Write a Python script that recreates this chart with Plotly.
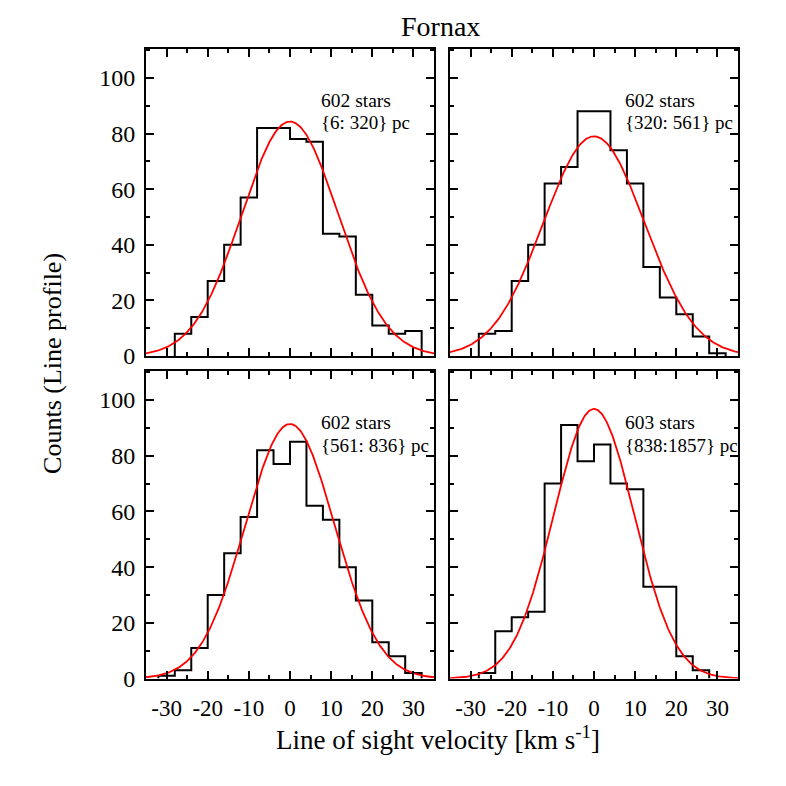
import numpy as np
import plotly.graph_objects as go

# ---------------- data ----------------
bin_width = 4.0
first_edge = [-28, -28, -32, -28]          # left edge of first bin per panel
counts_p1 = [8, 14, 27, 40, 57, 82, 82, 78, 77, 44, 43, 22, 11, 8, 9]
counts_p2 = [8, 9, 27, 40, 62, 68, 88, 88, 74, 62, 32, 21, 15, 7, 1]
counts_p3 = [1, 3, 11, 30, 45, 58, 82, 77, 85, 62, 57, 40, 28, 13, 8, 2]
counts_p4 = [2, 17, 22, 24, 70, 91, 78, 84, 70, 68, 33, 33, 8, 3]
fit_amp = [84.3, 79.0, 91.4, 96.8]
fit_mu = [0.0, 0.0, 0.0, 0.0]
fit_sigma = [11.7, 12.3, 10.8, 9.8]
star_labels = ["602 stars", "602 stars", "602 stars", "603 stars"]
range_labels = ["{6: 320} pc", "{320: 561} pc", "{561: 836} pc", "{838:1857} pc"]
x_ticks = [-30, -20, -10, 0, 10, 20, 30]
x_ticklabels = ["-30", "-20", "-10", "0", "10", "20", "30"]
y_ticks = [0, 20, 40, 60, 80, 100]
y_ticklabels = ["0", "20", "40", "60", "80", "100"]
title_text = "Fornax"
xtitle_text = "Line of sight velocity [km s<sup>-1</sup>]"
ytitle_text = "Counts (Line profile)"

counts_all = [counts_p1, counts_p2, counts_p3, counts_p4]

# ---------------- layout geometry ----------------
W = H = 786
FONT = "Liberation Serif"
xdom_left = [146 / W, 434 / W]
xdom_right = [450 / W, 738 / W]
ydom_top = [1 - 362 / H, 1 - 49.5 / H]
ydom_bot = [1 - 690 / H, 1 - 377 / H]
doms = [(xdom_left, ydom_top), (xdom_right, ydom_top),
        (xdom_left, ydom_bot), (xdom_right, ydom_bot)]

fig = go.Figure()
xgrid = np.linspace(-35, 35, 400)

for i in range(4):
    sfx = "" if i == 0 else str(i + 1)
    counts = counts_all[i]
    edges = [first_edge[i] + k * bin_width for k in range(len(counts) + 1)]
    xs = [edges[0]] + edges[:-1] + [edges[-1]]
    ys = [0] + list(counts) + [0]
    fig.add_trace(go.Scatter(x=xs, y=ys, mode="lines",
                             line=dict(color="black", width=2, shape="hv"),
                             xaxis="x" + sfx, yaxis="y" + sfx,
                             showlegend=False, hoverinfo="skip"))
    yfit = fit_amp[i] * np.exp(-(xgrid - fit_mu[i]) ** 2 / (2 * fit_sigma[i] ** 2))
    fig.add_trace(go.Scatter(x=xgrid, y=yfit, mode="lines",
                             line=dict(color="red", width=1.8),
                             xaxis="x" + sfx, yaxis="y" + sfx,
                             showlegend=False, hoverinfo="skip"))
    fig.add_annotation(x=7, y=92, xref="x" + sfx, yref="y" + sfx,
                       text=star_labels[i], showarrow=False,
                       xanchor="left", yanchor="middle",
                       font=dict(family=FONT, size=19.5, color="black"))
    fig.add_annotation(x=7, y=83.8, xref="x" + sfx, yref="y" + sfx,
                       text=range_labels[i], showarrow=False,
                       xanchor="left", yanchor="middle",
                       font=dict(family=FONT, size=19, color="black"))

layout_axes = {}
for i in range(4):
    sfx = "" if i == 0 else str(i + 1)
    xd, yd = doms[i]
    bottom = i >= 2
    left = i % 2 == 0
    layout_axes["xaxis" + sfx] = dict(
        domain=xd, range=[-35, 35], anchor="y" + sfx,
        tickvals=x_ticks, ticktext=x_ticklabels, showticklabels=bottom, ticklabelstandoff=8,
        ticks="inside", ticklen=8, tickwidth=1.5, tickcolor="black",
        minor=dict(dtick=5, tick0=0, ticks="inside", ticklen=4, tickwidth=1.5, tickcolor="black"),
        showline=True, linewidth=2, linecolor="black", mirror="allticks",
        showgrid=False, zeroline=False,
        tickfont=dict(family=FONT, size=23, color="black"))
    layout_axes["yaxis" + sfx] = dict(
        domain=yd, range=[0, 110.5], anchor="x" + sfx,
        tickvals=y_ticks, ticktext=y_ticklabels, showticklabels=left, ticklabelstandoff=4,
        ticks="inside", ticklen=8, tickwidth=1.5, tickcolor="black",
        minor=dict(dtick=10, tick0=0, ticks="inside", ticklen=4, tickwidth=1.5, tickcolor="black"),
        showline=True, linewidth=2, linecolor="black", mirror="allticks",
        showgrid=False, zeroline=False,
        tickfont=dict(family=FONT, size=24, color="black"))

fig.update_layout(width=W, height=H, margin=dict(l=0, r=0, t=0, b=0),
                  paper_bgcolor="white", plot_bgcolor="white", **layout_axes)

fig.add_annotation(x=440 / W, y=1 - 27 / H, xref="paper", yref="paper",
                   text=title_text, showarrow=False, xanchor="center", yanchor="middle",
                   font=dict(family=FONT, size=28, color="black"))
fig.add_annotation(x=438 / W, y=1 - 750 / H, xref="paper", yref="paper",
                   text=xtitle_text, showarrow=False, xanchor="center", yanchor="middle",
                   font=dict(family=FONT, size=27, color="black"))
fig.add_annotation(x=53 / W, y=1 - 370 / H, xref="paper", yref="paper",
                   text=ytitle_text, showarrow=False, textangle=-90,
                   xanchor="center", yanchor="middle",
                   font=dict(family=FONT, size=26, color="black"))

fig.write_html("out.html", config={"displayModeBar": False},
               post_script="document.body.style.margin='0px';document.body.style.overflow='hidden';")
